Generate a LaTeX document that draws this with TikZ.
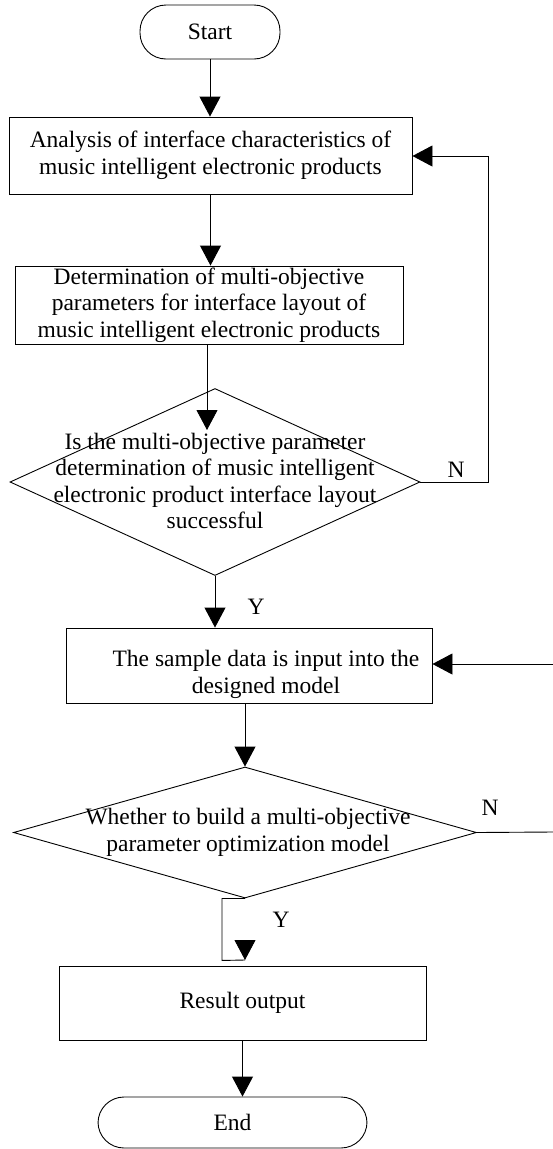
\documentclass[tikz,border=0pt]{standalone}
\usepackage{fontspec}
\setmainfont{Liberation Serif}
\usetikzlibrary{arrows.meta,shapes.geometric}
\begin{document}
\begin{tikzpicture}[x=1pt,y=-1pt,
  every node/.style={font=\fontsize{23.5}{26.5}\selectfont},
  box/.style={draw, line width=0.9pt, rectangle, inner sep=0pt, align=center},
  pill/.style={draw, line width=0.9pt, rectangle, rounded corners=26pt, inner sep=0pt},
  dia/.style={draw, line width=0.9pt, diamond, inner sep=0pt},
  txt/.style={align=center, inner sep=0pt},
  lbl/.style={inner sep=0pt},
  conn/.style={line width=0.9pt},
  arr/.style={line width=0.9pt, -{Triangle[width=21pt,length=20pt]}},
]
\useasboundingbox (0,0) rectangle (553,1149);

% nodes
\node[pill, minimum width=140pt, minimum height=54pt] (start) at (210,32) {Start};
\node[box, minimum width=403pt, minimum height=77pt] (b1) at (210.5,155.5)
  {Analysis of interface characteristics of\\music intelligent electronic products};
\node[box, minimum width=388pt, minimum height=78pt] (b2) at (209,305)
  {Determination of multi-objective\\parameters for interface layout of\\music intelligent electronic products};
\node[dia, minimum width=410pt, minimum height=187pt] (d1) at (215,482) {};
\node[txt] (d1t) at (215,481)
  {Is the multi-objective parameter\\determination of music intelligent\\electronic product interface layout\\successful};
\node[box, minimum width=366pt, minimum height=75pt] (b3) at (249,665.5) {};
\node[txt] (b3t) at (266,674.5) {The sample data is input into the\\designed model};
\node[dia, minimum width=463pt, minimum height=131pt] (d2) at (245,832.5) {};
\node[txt] (d2t) at (248,832.5) {Whether to build a multi-objective\\parameter optimization model};
\node[box, minimum width=367pt, minimum height=74pt] (b4) at (242.5,1003) {Result output};
\node[pill, minimum width=269pt, minimum height=51pt] (end) at (232.5,1122.5) {End};

% labels
\node[lbl] (y1) at (256,607) {Y};
\node[lbl] (n1) at (456,470) {N};
\node[lbl] (n2) at (490,808) {N};
\node[lbl] (y2) at (281,920) {Y};

% helper coordinates
\coordinate (t1) at (207,430);
\coordinate (k1) at (488,156);
\coordinate (r1) at (553,664);
\coordinate (r2) at (553,832);
\coordinate (y2t) at (245,960);

% connectors
\draw[arr] (start.south) -- (start.south |- b1.north);
\draw[arr] (b1.south) -- (b1.south |- b2.north);
\draw[arr] (t1 |- b2.south) -- (t1);
\draw[arr] (d1.south) -- (d1.south |- b3.north);
\draw[arr] (d1.east) -- (k1 |- d1.east) -- (k1) -- (k1 -| b1.east);
\draw[arr] (r1) -- (r1 -| b3.east);
\draw[arr] (d2.north |- b3.south) -- (d2.north);
\draw[conn] (d2.east) -- (r2);
\draw[conn] (d2.south) -- ++(-23,0) -- ++(0,62) -- (y2t);
\draw[arr] ([yshift=20pt]y2t) -- (y2t);
\draw[arr] (b4.south) -- (b4.south |- end.north);
\end{tikzpicture}
\end{document}
